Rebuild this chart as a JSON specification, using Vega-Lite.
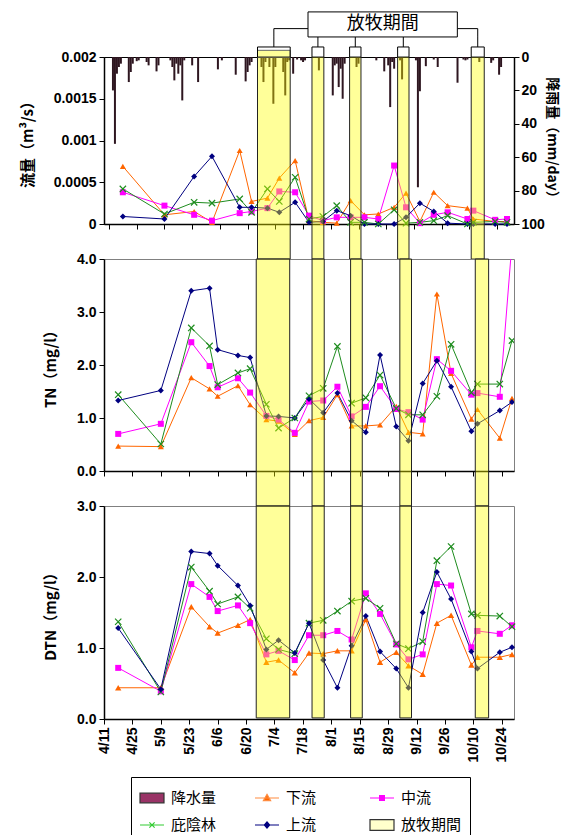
{
 "$schema": "https://vega.github.io/schema/vega-lite/v6.json",
 "background": "white",
 "padding": {"left": 19, "top": 10, "right": 4, "bottom": 0},
 "datasets": {
  "samples": [
   {"date":"2005-04-18","site":"下流","flow":0.00069,"tn":0.47,"dtn":0.44},
   {"date":"2005-04-18","site":"中流","flow":0.00038,"tn":0.70,"dtn":0.72},
   {"date":"2005-04-18","site":"庇陰林","flow":0.00042,"tn":1.44,"dtn":1.37},
   {"date":"2005-04-18","site":"上流","flow":0.00009,"tn":1.33,"dtn":1.28},
   {"date":"2005-05-09","site":"下流","flow":0.00011,"tn":0.46,"dtn":0.44},
   {"date":"2005-05-09","site":"中流","flow":0.00022,"tn":0.89,"dtn":0.39},
   {"date":"2005-05-09","site":"庇陰林","flow":0.00012,"tn":0.51,"dtn":0.38},
   {"date":"2005-05-09","site":"上流","flow":0.00006,"tn":1.52,"dtn":0.42},
   {"date":"2005-05-24","site":"下流","flow":0.00015,"tn":1.76,"dtn":1.58},
   {"date":"2005-05-24","site":"中流","flow":0.00011,"tn":2.43,"dtn":1.90},
   {"date":"2005-05-24","site":"庇陰林","flow":0.00026,"tn":2.70,"dtn":2.14},
   {"date":"2005-05-24","site":"上流","flow":0.00057,"tn":3.40,"dtn":2.36},
   {"date":"2005-06-02","site":"下流","flow":0.00002,"tn":1.55,"dtn":1.30},
   {"date":"2005-06-02","site":"中流","flow":0.00004,"tn":1.98,"dtn":1.72},
   {"date":"2005-06-02","site":"庇陰林","flow":0.00025,"tn":2.36,"dtn":1.80},
   {"date":"2005-06-02","site":"上流","flow":0.00081,"tn":3.45,"dtn":2.33},
   {"date":"2005-06-06","site":"下流","flow":null,"tn":1.41,"dtn":1.21},
   {"date":"2005-06-06","site":"中流","flow":null,"tn":1.58,"dtn":1.52},
   {"date":"2005-06-06","site":"庇陰林","flow":null,"tn":1.63,"dtn":1.62},
   {"date":"2005-06-06","site":"上流","flow":null,"tn":2.29,"dtn":2.16},
   {"date":"2005-06-16","site":"下流","flow":0.00088,"tn":1.61,"dtn":1.32},
   {"date":"2005-06-16","site":"中流","flow":0.00013,"tn":1.75,"dtn":1.60},
   {"date":"2005-06-16","site":"庇陰林","flow":0.00030,"tn":1.85,"dtn":1.72},
   {"date":"2005-06-16","site":"上流","flow":0.00020,"tn":2.18,"dtn":1.88},
   {"date":"2005-06-22","site":"下流","flow":0.00027,"tn":1.25,"dtn":1.40},
   {"date":"2005-06-22","site":"中流","flow":0.00015,"tn":1.48,"dtn":1.35},
   {"date":"2005-06-22","site":"庇陰林","flow":0.00014,"tn":1.93,"dtn":1.56},
   {"date":"2005-06-22","site":"上流","flow":0.00020,"tn":2.14,"dtn":1.60},
   {"date":"2005-06-30","site":"下流","flow":0.00031,"tn":0.97,"dtn":0.80},
   {"date":"2005-06-30","site":"中流","flow":0.00019,"tn":1.04,"dtn":0.91},
   {"date":"2005-06-30","site":"庇陰林","flow":0.00042,"tn":1.26,"dtn":1.13},
   {"date":"2005-06-30","site":"上流","flow":0.00019,"tn":1.04,"dtn":0.98},
   {"date":"2005-07-06","site":"下流","flow":0.00055,"tn":0.94,"dtn":0.83},
   {"date":"2005-07-06","site":"中流","flow":0.00039,"tn":0.97,"dtn":0.96},
   {"date":"2005-07-06","site":"庇陰林","flow":0.00027,"tn":0.81,"dtn":0.98},
   {"date":"2005-07-06","site":"上流","flow":0.00014,"tn":1.03,"dtn":1.11},
   {"date":"2005-07-14","site":"下流","flow":0.00076,"tn":0.69,"dtn":0.65},
   {"date":"2005-07-14","site":"中流","flow":0.00038,"tn":0.72,"dtn":0.83},
   {"date":"2005-07-14","site":"庇陰林","flow":0.00056,"tn":1.00,"dtn":0.92},
   {"date":"2005-07-14","site":"上流","flow":0.00026,"tn":1.00,"dtn":0.93},
   {"date":"2005-07-21","site":"下流","flow":0.00004,"tn":0.95,"dtn":0.93},
   {"date":"2005-07-21","site":"中流","flow":0.00010,"tn":1.31,"dtn":1.18},
   {"date":"2005-07-21","site":"庇陰林","flow":0.00006,"tn":1.42,"dtn":1.35},
   {"date":"2005-07-21","site":"上流","flow":0.00002,"tn":1.36,"dtn":1.35},
   {"date":"2005-07-28","site":"下流","flow":0.00002,"tn":1.01,"dtn":0.92},
   {"date":"2005-07-28","site":"中流","flow":0.00004,"tn":1.33,"dtn":1.18},
   {"date":"2005-07-28","site":"庇陰林","flow":0.00009,"tn":1.56,"dtn":1.39},
   {"date":"2005-07-28","site":"上流","flow":0.00003,"tn":1.10,"dtn":0.83},
   {"date":"2005-08-04","site":"下流","flow":0.00001,"tn":1.44,"dtn":0.96},
   {"date":"2005-08-04","site":"中流","flow":0.00008,"tn":1.59,"dtn":1.24},
   {"date":"2005-08-04","site":"庇陰林","flow":0.00022,"tn":2.35,"dtn":1.52},
   {"date":"2005-08-04","site":"上流","flow":0.00016,"tn":1.47,"dtn":0.44},
   {"date":"2005-08-11","site":"下流","flow":0.00028,"tn":0.85,"dtn":0.96},
   {"date":"2005-08-11","site":"中流","flow":0.00008,"tn":1.03,"dtn":1.12},
   {"date":"2005-08-11","site":"庇陰林","flow":0.00002,"tn":1.28,"dtn":1.66},
   {"date":"2005-08-11","site":"上流","flow":0.00010,"tn":0.95,"dtn":1.03},
   {"date":"2005-08-18","site":"下流","flow":0.00011,"tn":0.85,"dtn":1.40},
   {"date":"2005-08-18","site":"中流","flow":0.00008,"tn":1.21,"dtn":1.77},
   {"date":"2005-08-18","site":"庇陰林","flow":0.00002,"tn":1.38,"dtn":1.70},
   {"date":"2005-08-18","site":"上流","flow":0,"tn":0.73,"dtn":1.45},
   {"date":"2005-08-25","site":"下流","flow":0.00012,"tn":0.87,"dtn":0.80},
   {"date":"2005-08-25","site":"中流","flow":0.00006,"tn":1.60,"dtn":1.48},
   {"date":"2005-08-25","site":"庇陰林","flow":0,"tn":1.81,"dtn":1.56},
   {"date":"2005-08-25","site":"上流","flow":0,"tn":2.19,"dtn":0.95},
   {"date":"2005-09-02","site":"下流","flow":0.00020,"tn":1.22,"dtn":0.94},
   {"date":"2005-09-02","site":"中流","flow":0.00070,"tn":1.17,"dtn":1.05},
   {"date":"2005-09-02","site":"庇陰林","flow":0.00017,"tn":1.18,"dtn":1.06},
   {"date":"2005-09-02","site":"上流","flow":0,"tn":0.84,"dtn":0.71},
   {"date":"2005-09-08","site":"下流","flow":0.00037,"tn":0.73,"dtn":0.75},
   {"date":"2005-09-08","site":"中流","flow":0.00020,"tn":1.11,"dtn":0.84},
   {"date":"2005-09-08","site":"庇陰林","flow":0.00001,"tn":1.06,"dtn":0.99},
   {"date":"2005-09-08","site":"上流","flow":0.00008,"tn":0.57,"dtn":0.44},
   {"date":"2005-09-15","site":"下流","flow":0.00003,"tn":0.70,"dtn":0.63},
   {"date":"2005-09-15","site":"中流","flow":0.00001,"tn":0.97,"dtn":0.91},
   {"date":"2005-09-15","site":"庇陰林","flow":0.00002,"tn":1.06,"dtn":1.09},
   {"date":"2005-09-15","site":"上流","flow":0.00025,"tn":1.65,"dtn":1.50},
   {"date":"2005-09-22","site":"下流","flow":0.00038,"tn":3.34,"dtn":1.35},
   {"date":"2005-09-22","site":"中流","flow":0.00011,"tn":2.11,"dtn":1.90},
   {"date":"2005-09-22","site":"庇陰林","flow":0.00004,"tn":1.41,"dtn":2.23},
   {"date":"2005-09-22","site":"上流","flow":0.00015,"tn":2.08,"dtn":2.07},
   {"date":"2005-09-29","site":"下流","flow":0.00022,"tn":1.84,"dtn":1.46},
   {"date":"2005-09-29","site":"中流","flow":0.00014,"tn":1.89,"dtn":1.88},
   {"date":"2005-09-29","site":"庇陰林","flow":0.00010,"tn":2.39,"dtn":2.43},
   {"date":"2005-09-29","site":"上流","flow":0.00001,"tn":1.59,"dtn":1.69},
   {"date":"2005-10-09","site":"下流","flow":0.00019,"tn":0.98,"dtn":0.76},
   {"date":"2005-10-09","site":"中流","flow":0.00006,"tn":1.44,"dtn":1.01},
   {"date":"2005-10-09","site":"庇陰林","flow":0,"tn":1.48,"dtn":1.48},
   {"date":"2005-10-09","site":"上流","flow":0,"tn":0.75,"dtn":0.95},
   {"date":"2005-10-12","site":"下流","flow":0.00006,"tn":1.16,"dtn":0.87},
   {"date":"2005-10-12","site":"中流","flow":0.00016,"tn":1.47,"dtn":1.24},
   {"date":"2005-10-12","site":"庇陰林","flow":0.00002,"tn":1.64,"dtn":1.46},
   {"date":"2005-10-12","site":"上流","flow":0,"tn":0.89,"dtn":0.71},
   {"date":"2005-10-23","site":"下流","flow":0.00003,"tn":0.62,"dtn":0.87},
   {"date":"2005-10-23","site":"中流","flow":0.00005,"tn":1.40,"dtn":1.20},
   {"date":"2005-10-23","site":"庇陰林","flow":0.00003,"tn":1.64,"dtn":1.45},
   {"date":"2005-10-23","site":"上流","flow":0,"tn":1.14,"dtn":0.94},
   {"date":"2005-10-29","site":"下流","flow":0.00003,"tn":1.37,"dtn":0.91},
   {"date":"2005-10-29","site":"中流","flow":0.00006,"tn":4.30,"dtn":1.32},
   {"date":"2005-10-29","site":"庇陰林","flow":0.00002,"tn":2.46,"dtn":1.30},
   {"date":"2005-10-29","site":"上流","flow":0,"tn":1.30,"dtn":1.01}
  ],
  "rain": [
   {"date":"2005-04-13","rain":20},{"date":"2005-04-14","rain":52},{"date":"2005-04-15","rain":10},{"date":"2005-04-16","rain":6},{"date":"2005-04-17","rain":4},
   {"date":"2005-04-21","rain":15},{"date":"2005-04-22","rain":9},{"date":"2005-04-23","rain":4},{"date":"2005-04-25","rain":2.5},{"date":"2005-04-26","rain":2},
   {"date":"2005-04-30","rain":3},{"date":"2005-05-01","rain":5},{"date":"2005-05-05","rain":8.6},{"date":"2005-05-06","rain":5},
   {"date":"2005-05-12","rain":2},{"date":"2005-05-13","rain":6},{"date":"2005-05-14","rain":14},{"date":"2005-05-15","rain":4},{"date":"2005-05-16","rain":10},{"date":"2005-05-17","rain":5},{"date":"2005-05-18","rain":26},{"date":"2005-05-19","rain":2},
   {"date":"2005-05-23","rain":5},{"date":"2005-05-26","rain":15},
   {"date":"2005-06-05","rain":7.4},{"date":"2005-06-07","rain":2},{"date":"2005-06-14","rain":10.6},
   {"date":"2005-06-19","rain":14.6},{"date":"2005-06-20","rain":9},{"date":"2005-06-21","rain":5},{"date":"2005-06-22","rain":3},
   {"date":"2005-06-27","rain":6},{"date":"2005-06-28","rain":15},{"date":"2005-06-29","rain":3},{"date":"2005-07-01","rain":6},{"date":"2005-07-03","rain":28},{"date":"2005-07-04","rain":6},{"date":"2005-07-08","rain":9},{"date":"2005-07-09","rain":23},{"date":"2005-07-10","rain":3},{"date":"2005-07-11","rain":2},
   {"date":"2005-07-13","rain":10},{"date":"2005-07-15","rain":1.5},{"date":"2005-07-17","rain":2},{"date":"2005-07-18","rain":3},{"date":"2005-07-19","rain":2},
   {"date":"2005-07-26","rain":8},
   {"date":"2005-08-02","rain":23},{"date":"2005-08-03","rain":5},{"date":"2005-08-04","rain":4},{"date":"2005-08-05","rain":18},{"date":"2005-08-06","rain":7},{"date":"2005-08-07","rain":25},{"date":"2005-08-08","rain":4},
   {"date":"2005-08-14","rain":6},{"date":"2005-08-15","rain":4},
   {"date":"2005-08-24","rain":2},{"date":"2005-08-28","rain":8.6},{"date":"2005-08-30","rain":5},{"date":"2005-08-31","rain":30},{"date":"2005-09-01","rain":3},{"date":"2005-09-02","rain":7},
   {"date":"2005-09-05","rain":2},{"date":"2005-09-06","rain":13.4},
   {"date":"2005-09-13","rain":2},{"date":"2005-09-14","rain":78},{"date":"2005-09-15","rain":20.5},
   {"date":"2005-09-18","rain":5.5},{"date":"2005-09-22","rain":1.5},{"date":"2005-09-24","rain":6},
   {"date":"2005-10-04","rain":15.4},{"date":"2005-10-07","rain":1.5},{"date":"2005-10-08","rain":2},{"date":"2005-10-09","rain":1.5},
   {"date":"2005-10-15","rain":3},{"date":"2005-10-21","rain":3.5},{"date":"2005-10-22","rain":2},{"date":"2005-10-25","rain":10.6},{"date":"2005-10-26","rain":6}
  ],
  "grazing": [
   {"start":"2005-06-25T00:00:00Z","end":"2005-07-11T12:00:00Z","mid":"2005-07-03T06:00:00Z"},
   {"start":"2005-07-22T12:00:00Z","end":"2005-07-28T12:00:00Z","mid":"2005-07-25T12:00:00Z"},
   {"start":"2005-08-10T12:00:00Z","end":"2005-08-16T06:00:00Z","mid":"2005-08-13T09:00:00Z"},
   {"start":"2005-09-03T18:00:00Z","end":"2005-09-09T12:00:00Z","mid":"2005-09-06T15:00:00Z"},
   {"start":"2005-10-10T22:00:00Z","end":"2005-10-17T12:00:00Z","mid":"2005-10-14T05:00:00Z"}
  ]
 },
 "vconcat": [
  {
   "width": 410, "height": 167,
   "view": {"stroke": "#000"},
   "resolve": {"scale": {"y": "independent"}},
   "layer": [
    {
     "data": {"name": "rain"},
     "mark": {"type": "bar", "size": 2, "color": "#2e1620"},
     "encoding": {
      "x": {"field": "date", "type": "temporal", "scale": {"type": "utc", "nice": false, "domain": [{"year":2005,"month":4,"date":11,"utc":true},{"year":2005,"month":10,"date":30,"utc":true}]},
            "axis": {"labels": false, "title": null, "tickCount": 20, "values": [1113177600000,1114387200000,1115596800000,1116806400000,1118016000000,1119225600000,1120435200000,1121644800000,1122854400000,1124064000000,1125273600000,1126483200000,1127692800000,1128902400000,1130112000000]}},
      "y": {"field": "rain", "type": "quantitative", "scale": {"domain": [0, 100], "reverse": true, "nice": false},
            "axis": {"orient": "right", "values": [0, 20, 40, 60, 80, 100], "title": "降雨量（mm/day）", "titlePadding": 0, "labelPadding": 2, "titleFontSize": 14}}
     }
    },
    {
     "layer": [
      {
       "data": {"name": "samples"},
       "transform": [{"filter": {"field": "flow", "valid": true}}],
       "mark": {"type": "line", "strokeWidth": 1},
       "encoding": {
        "x": {"field": "date", "type": "temporal"},
        "y": {"field": "flow", "type": "quantitative", "scale": {"domain": [0, 0.002], "nice": false},
              "axis": {"orient": "left", "values": [0, 0.0005, 0.001, 0.0015, 0.002], "format": "~f", "title": "流量（m³/s）", "titlePadding": 18}},
        "color": {"field": "site", "type": "nominal", "scale": {"domain": ["下流","中流","庇陰林","上流"], "range": ["#FF6600","#FF00FF","#1E8C1E","#000080"]}, "legend": null}
       }
      },
      {
       "data": {"name": "samples"},
       "transform": [{"filter": {"field": "flow", "valid": true}}, {"filter": "datum.site !== '庇陰林'"}],
       "mark": {"type": "point", "filled": true, "opacity": 1, "size": 36},
       "encoding": {
        "x": {"field": "date", "type": "temporal"},
        "y": {"field": "flow", "type": "quantitative", "scale": {"domain": [0, 0.002], "nice": false}},
        "color": {"field": "site", "type": "nominal", "scale": {"domain": ["下流","中流","庇陰林","上流"], "range": ["#FF6600","#FF00FF","#1E8C1E","#000080"]}, "legend": null},
        "shape": {"field": "site", "type": "nominal", "scale": {"domain": ["下流","中流","上流"], "range": ["triangle-up","square","diamond"]}, "legend": null}
       }
      },
      {
       "data": {"name": "samples"},
       "transform": [{"filter": {"field": "flow", "valid": true}}, {"filter": "datum.site === '庇陰林'"}],
       "mark": {"type": "point", "shape": "M-1,-1L1,1M-1,1L1,-1", "filled": false, "opacity": 1, "size": 40, "strokeWidth": 1.2, "color": "#1E8C1E"},
       "encoding": {
        "x": {"field": "date", "type": "temporal"},
        "y": {"field": "flow", "type": "quantitative", "scale": {"domain": [0, 0.002], "nice": false}}
       }
      },
      {
       "data": {"name": "grazing"},
       "mark": {"type": "rect", "fill": "#FFFF00", "fillOpacity": 0.4, "stroke": "#222", "strokeWidth": 1},
       "encoding": {
        "x": {"field": "start", "type": "temporal"}, "x2": {"field": "end"},
        "y": {"datum": 0.002, "type": "quantitative", "scale": {"domain": [0, 0.002], "nice": false}}, "y2": {"datum": -0.00042}
       }
      },
      {
       "data": {"values": [{}]},
       "mark": {"type": "rect", "fill": "#FFFF00", "fillOpacity": 0.4, "stroke": "#666", "strokeWidth": 1},
       "encoding": {
        "x": {"datum": {"year":2005,"month":6,"date":25,"utc":true}, "type": "temporal"},
        "x2": {"datum": {"year":2005,"month":7,"date":11,"hours":12,"utc":true}},
        "y": {"datum": 0.00208, "type": "quantitative", "scale": {"domain": [0, 0.002], "nice": false}}, "y2": {"datum": 0.002}
       }
      },
      {
       "data": {"name": "grazing"},
       "mark": {"type": "rule", "color": "#000", "strokeWidth": 1},
       "encoding": {
        "x": {"field": "start", "type": "temporal"}, "x2": {"field": "end"},
        "y": {"datum": 0.00212, "type": "quantitative", "scale": {"domain": [0, 0.002], "nice": false}}
       }
      },
      {
       "data": {"name": "grazing"},
       "mark": {"type": "rule", "color": "#000", "strokeWidth": 1},
       "encoding": {
        "x": {"field": "start", "type": "temporal"},
        "y": {"datum": 0.00212, "type": "quantitative", "scale": {"domain": [0, 0.002], "nice": false}}, "y2": {"datum": 0.002}
       }
      },
      {
       "data": {"name": "grazing"},
       "mark": {"type": "rule", "color": "#000", "strokeWidth": 1},
       "encoding": {
        "x": {"field": "end", "type": "temporal"},
        "y": {"datum": 0.00212, "type": "quantitative", "scale": {"domain": [0, 0.002], "nice": false}}, "y2": {"datum": 0.002}
       }
      },
      {
       "data": {"name": "grazing"},
       "mark": {"type": "rule", "color": "#000", "strokeWidth": 1},
       "encoding": {
        "x": {"field": "mid", "type": "temporal"},
        "y": {"datum": 0.00224, "type": "quantitative", "scale": {"domain": [0, 0.002], "nice": false}}, "y2": {"datum": 0.00212}
       }
      },
      {
       "data": {"values": [{}]},
       "mark": {"type": "rule", "color": "#000", "strokeWidth": 1},
       "encoding": {
        "x": {"datum": {"year":2005,"month":7,"date":3,"hours":6,"utc":true}, "type": "temporal"},
        "y": {"datum": 0.00234, "type": "quantitative", "scale": {"domain": [0, 0.002], "nice": false}}, "y2": {"datum": 0.00224}
       }
      },
      {
       "data": {"values": [{}]},
       "mark": {"type": "rule", "color": "#000", "strokeWidth": 1},
       "encoding": {
        "x": {"datum": {"year":2005,"month":7,"date":3,"hours":6,"utc":true}, "type": "temporal"},
        "x2": {"datum": {"year":2005,"month":7,"date":20,"hours":12,"utc":true}},
        "y": {"datum": 0.00234, "type": "quantitative", "scale": {"domain": [0, 0.002], "nice": false}}
       }
      },
      {
       "data": {"values": [{}]},
       "mark": {"type": "rule", "color": "#000", "strokeWidth": 1},
       "encoding": {
        "x": {"datum": {"year":2005,"month":10,"date":14,"hours":5,"utc":true}, "type": "temporal"},
        "y": {"datum": 0.00234, "type": "quantitative", "scale": {"domain": [0, 0.002], "nice": false}}, "y2": {"datum": 0.00224}
       }
      },
      {
       "data": {"values": [{}]},
       "mark": {"type": "rule", "color": "#000", "strokeWidth": 1},
       "encoding": {
        "x": {"datum": {"year":2005,"month":10,"date":3,"hours":22,"utc":true}, "type": "temporal"},
        "x2": {"datum": {"year":2005,"month":10,"date":14,"hours":5,"utc":true}},
        "y": {"datum": 0.00234, "type": "quantitative", "scale": {"domain": [0, 0.002], "nice": false}}
       }
      },
      {
       "data": {"values": [{}]},
       "mark": {"type": "rect", "fill": "#fff", "stroke": "#000", "strokeWidth": 1},
       "encoding": {
        "x": {"datum": {"year":2005,"month":7,"date":20,"hours":12,"utc":true}, "type": "temporal"},
        "x2": {"datum": {"year":2005,"month":10,"date":3,"hours":22,"utc":true}},
        "y": {"datum": 0.00254, "type": "quantitative", "scale": {"domain": [0, 0.002], "nice": false}}, "y2": {"datum": 0.00224}
       }
      },
      {
       "data": {"values": [{}]},
       "mark": {"type": "text", "text": "放牧期間", "font": "Noto Sans CJK JP", "fontSize": 18, "align": "center", "baseline": "middle", "color": "#000"},
       "encoding": {
        "x": {"datum": {"year":2005,"month":8,"date":27,"hours":5,"utc":true}, "type": "temporal"},
        "y": {"datum": 0.00239, "type": "quantitative", "scale": {"domain": [0, 0.002], "nice": false}}
       }
      }
     ]
    }
   ]
  },
  {
   "width": 410, "height": 212,
   "layer": [
    {
     "data": {"name": "samples"},
     "mark": {"type": "line", "strokeWidth": 1, "clip": true},
     "encoding": {
      "x": {"field": "date", "type": "temporal", "scale": {"type": "utc", "nice": false, "domain": [{"year":2005,"month":4,"date":11,"utc":true},{"year":2005,"month":10,"date":30,"utc":true}]},
            "axis": {"labels": false, "title": null, "tickCount": 20, "values": [1113177600000,1114387200000,1115596800000,1116806400000,1118016000000,1119225600000,1120435200000,1121644800000,1122854400000,1124064000000,1125273600000,1126483200000,1127692800000,1128902400000,1130112000000]}},
      "y": {"field": "tn", "type": "quantitative", "scale": {"domain": [0, 4], "nice": false},
            "axis": {"values": [0, 1, 2, 3, 4], "format": ".1f", "title": "TN（mg/l）", "titlePadding": 18}},
      "color": {"field": "site", "type": "nominal", "scale": {"domain": ["下流","中流","庇陰林","上流"], "range": ["#FF6600","#FF00FF","#1E8C1E","#000080"]}, "legend": null}
     }
    },
    {
     "data": {"name": "samples"},
     "transform": [{"filter": "datum.site !== '庇陰林'"}],
     "mark": {"type": "point", "filled": true, "opacity": 1, "size": 36, "clip": true},
     "encoding": {
      "x": {"field": "date", "type": "temporal"},
      "y": {"field": "tn", "type": "quantitative", "scale": {"domain": [0, 4], "nice": false}},
      "color": {"field": "site", "type": "nominal", "scale": {"domain": ["下流","中流","庇陰林","上流"], "range": ["#FF6600","#FF00FF","#1E8C1E","#000080"]}, "legend": null},
      "shape": {"field": "site", "type": "nominal", "scale": {"domain": ["下流","中流","上流"], "range": ["triangle-up","square","diamond"]}, "legend": null}
     }
    },
    {
     "data": {"name": "samples"},
     "transform": [{"filter": "datum.site === '庇陰林'"}],
     "mark": {"type": "point", "shape": "M-1,-1L1,1M-1,1L1,-1", "filled": false, "opacity": 1, "size": 40, "strokeWidth": 1.2, "color": "#1E8C1E", "clip": true},
     "encoding": {
      "x": {"field": "date", "type": "temporal"},
      "y": {"field": "tn", "type": "quantitative", "scale": {"domain": [0, 4], "nice": false}}
     }
    },
    {
     "data": {"name": "grazing"},
     "mark": {"type": "rect", "fill": "#FFFF00", "fillOpacity": 0.4, "stroke": "#222", "strokeWidth": 1},
     "encoding": {
      "x": {"field": "start", "type": "temporal"}, "x2": {"field": "end"},
      "y": {"datum": 4, "type": "quantitative", "scale": {"domain": [0, 4], "nice": false}}, "y2": {"datum": -0.66}
     }
    }
   ]
  },
  {
   "width": 410, "height": 213,
   "layer": [
    {
     "data": {"name": "samples"},
     "mark": {"type": "line", "strokeWidth": 1},
     "encoding": {
      "x": {"field": "date", "type": "temporal", "scale": {"type": "utc", "nice": false, "domain": [{"year":2005,"month":4,"date":11,"utc":true},{"year":2005,"month":10,"date":30,"utc":true}]},
            "axis": {"format": "%-m/%-d", "labelAngle": -90, "title": null, "labelFontSize": 14, "labelOverlap": false, "labelFlush": false, "tickCount": 20, "values": [1113177600000,1114387200000,1115596800000,1116806400000,1118016000000,1119225600000,1120435200000,1121644800000,1122854400000,1124064000000,1125273600000,1126483200000,1127692800000,1128902400000,1130112000000]}},
      "y": {"field": "dtn", "type": "quantitative", "scale": {"domain": [0, 3], "nice": false},
            "axis": {"values": [0, 1, 2, 3], "format": ".1f", "title": "DTN（mg/l）", "titlePadding": 18}},
      "color": {"field": "site", "type": "nominal", "scale": {"domain": ["下流","中流","庇陰林","上流"], "range": ["#FF6600","#FF00FF","#1E8C1E","#000080"]}, "legend": null}
     }
    },
    {
     "data": {"name": "samples"},
     "transform": [{"filter": "datum.site === '下流'"}],
     "mark": {"type": "point", "shape": "triangle-up", "filled": true, "opacity": 1, "size": 40, "color": "#FF6600"},
     "encoding": {
      "x": {"field": "date", "type": "temporal"},
      "y": {"field": "dtn", "type": "quantitative", "scale": {"domain": [0, 3], "nice": false}}
     }
    },
    {
     "data": {"name": "samples"},
     "transform": [{"filter": "datum.site === '中流'"}],
     "mark": {"type": "point", "shape": "square", "filled": true, "opacity": 1, "size": 36, "color": "#FF00FF"},
     "encoding": {
      "x": {"field": "date", "type": "temporal"},
      "y": {"field": "dtn", "type": "quantitative", "scale": {"domain": [0, 3], "nice": false}}
     }
    },
    {
     "data": {"name": "samples"},
     "transform": [{"filter": "datum.site === '庇陰林'"}],
     "mark": {"type": "point", "shape": "M-1,-1L1,1M-1,1L1,-1", "filled": false, "opacity": 1, "size": 40, "strokeWidth": 1.2, "color": "#1E8C1E"},
     "encoding": {
      "x": {"field": "date", "type": "temporal"},
      "y": {"field": "dtn", "type": "quantitative", "scale": {"domain": [0, 3], "nice": false}}
     }
    },
    {
     "data": {"name": "samples"},
     "transform": [{"filter": "datum.site === '上流'"}],
     "mark": {"type": "point", "shape": "diamond", "filled": true, "opacity": 1, "size": 36, "color": "#000080"},
     "encoding": {
      "x": {"field": "date", "type": "temporal"},
      "y": {"field": "dtn", "type": "quantitative", "scale": {"domain": [0, 3], "nice": false}}
     }
    },
    {
     "data": {"name": "grazing"},
     "mark": {"type": "rect", "fill": "#FFFF00", "fillOpacity": 0.4, "stroke": "#222", "strokeWidth": 1},
     "encoding": {
      "x": {"field": "start", "type": "temporal"}, "x2": {"field": "end"},
      "y": {"datum": 3, "type": "quantitative", "scale": {"domain": [0, 3], "nice": false}}, "y2": {"datum": 0.015}
     }
    },
    {
     "data": {"values": []},
     "mark": {"type": "point", "filled": true, "opacity": 1},
     "encoding": {
      "x": {"field": "date", "type": "temporal"},
      "y": {"field": "dtn", "type": "quantitative", "scale": {"domain": [0, 3], "nice": false}},
      "fill": {"field": "series", "type": "nominal", "scale": {"domain": ["降水量","下流","中流","庇陰林","上流","放牧期間"], "range": ["#993366","#FF6600","#FF00FF","#33CC33","#000080","#FFFFCC"]}, "legend": {"title": null}},
      "stroke": {"field": "series", "type": "nominal", "scale": {"domain": ["降水量","下流","中流","庇陰林","上流","放牧期間"], "range": ["#333333","#FF8C40","#FF00FF","#33CC33","#000080","#333333"]}, "legend": {"title": null}},
      "shape": {"field": "series", "type": "nominal", "scale": {"domain": ["降水量","下流","中流","庇陰林","上流","放牧期間"], "range": ["M-1,-0.4H1V0.4H-1Z","M-1,0H1M0,-0.3L0.3,0.22H-0.3Z","M-1,0H1M-0.2,-0.2H0.2V0.2H-0.2Z","M-1,0H1M-0.22,-0.22L0.22,0.22M-0.22,0.22L0.22,-0.22","M-1,0H1M0,-0.26L0.22,0L0,0.26L-0.22,0Z","M-1,-0.45H1V0.45H-1Z"]}, "legend": {"title": null}}
     }
    }
   ]
  }
 ],
 "spacing": 35,
 "bounds": "flush",
 "resolve": {
  "scale": {"x": "independent", "y": "independent", "color": "independent", "shape": "independent", "fill": "independent", "stroke": "independent"},
  "legend": {"fill": "independent", "stroke": "independent", "shape": "independent", "color": "independent"}
 },
 "config": {
  "view": {"stroke": "#808080", "strokeWidth": 1},
  "axis": {"labelFont": "Liberation Sans", "labelFontSize": 14, "labelFontWeight": "bold", "labelColor": "#000", "titleFont": "Noto Sans CJK JP", "titleFontSize": 15, "titleFontWeight": "bold", "titleColor": "#000", "domainColor": "#000", "domainWidth": 1.5, "tickColor": "#000", "tickSize": 5, "grid": false, "labelPadding": 3, "labelOverlap": false},
  "legend": {"orient": "none", "legendX": 27, "legendY": 271, "direction": "horizontal", "columns": 3, "gridAlign": "all", "columnPadding": 20, "rowPadding": 6, "symbolSize": 576, "symbolStrokeWidth": 1.2, "labelFont": "Noto Sans CJK JP", "labelFontSize": 15, "labelColor": "#000", "labelOffset": 6, "strokeColor": "#000", "fillColor": "#fff", "padding": 8, "labelLimit": 200}
 }
}
